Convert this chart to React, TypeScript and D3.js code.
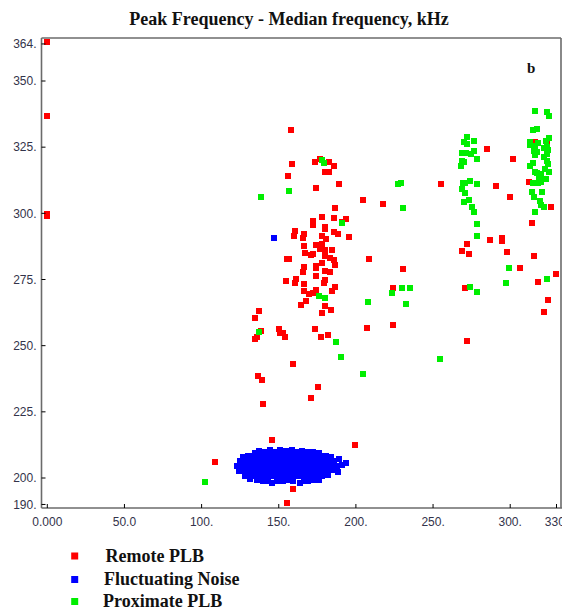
import { useEffect, useRef } from 'react'
import * as d3 from 'd3'

type Pt = [number, number]

const Y_TICKS = [190, 200, 225, 250, 275, 300, 325, 350, 364]
const Y_LABELS = ['190.', '200.', '225.', '250.', '275.', '300.', '325.', '350.', '364.']
const X_TICKS = [0, 50, 100, 150, 200, 250, 300, 330]
const X_LABELS = ['0.000', '50.0', '100.', '150.', '200.', '250.', '300.', '330.']

const SERIES_NAMES = ['Remote PLB', 'Fluctuating Noise', 'Proximate PLB']
const SERIES_COLORS = ['#ff0000', '#0000ff', '#00ee00']

const remote: Pt[] = [
  [0, 364.6], [0, 336.6], [0, 299.8], [0, 299.1],
  [158.1, 331.5], [158.8, 318.5], [155.8, 314.1], [174.3, 309.6], [173.7, 319.5], [176.9, 320.5],
  [182.4, 319.5], [185.6, 317.7], [180, 315.6], [182.4, 315.6], [189.3, 311.2], [204.8, 305],
  [217.4, 303.6], [255.3, 311.2], [285.2, 324.3], [302, 320.6], [290.8, 310.5], [300.1, 306.1],
  [314.3, 296.3], [326.2, 302.5], [312.4, 312], [316, 327.1], [315, 325.9], [324, 326.8],
  [272.2, 288.6], [269, 285.7], [273.3, 284.7], [287.1, 290.1], [294.5, 290.6], [294.5, 289.7],
  [298.1, 285.3], [306.4, 279.5], [315.6, 283.9], [329.5, 277.1], [318.2, 274.1], [324.3, 267.2],
  [321.9, 262.9], [270.9, 271.6], [272.2, 251.9], [208.7, 282.8], [230.3, 279.1], [224.2, 271.6],
  [224.2, 257.7], [207.4, 256.6], [137.2, 263.2], [134.8, 260.4], [138.7, 255.6], [136.1, 253.2],
  [134.4, 252.4], [150.2, 256.4], [150.8, 254.9], [152.6, 254.9], [153.9, 253.4], [173.7, 256.3],
  [177.4, 253.4], [181.9, 254.1], [186.3, 302.1],
  [178.2, 298.8], [185.6, 298.2], [191.2, 296.9], [193.8, 297.8], [172, 297.2], [172, 295.7],
  [180, 295], [180, 294], [160.7, 293.3], [160.1, 291.5], [166.2, 292.2], [165.7, 290.7],
  [178.2, 291.5], [180.6, 290.2], [185.6, 292.8], [188.6, 292.2], [195.5, 291.2], [166.2, 287.6],
  [174.3, 288.1], [178, 288.6], [176.7, 286.5], [179.8, 286], [184.5, 286.1], [167, 284.9],
  [170.7, 284.3], [172.4, 284.7], [180.2, 283.7], [183.2, 283.3], [185.8, 282.4], [155.1, 282.9],
  [156.8, 282.7], [178.2, 281.4], [186.3, 280.6], [166.6, 279.9], [165.9, 277.9], [174.3, 280.2],
  [174.1, 279.3], [174.3, 276.4], [180.2, 278.1], [183.2, 277.8], [154.5, 274.5], [161.4, 275.3],
  [160.7, 273.7], [166.2, 273.3], [180, 274.9], [179.5, 273.6], [186.3, 272.3], [184.5, 270.8],
  [166.4, 270.6], [169.8, 269.6], [172.4, 269.8], [173.9, 271.2], [167.5, 266.8], [164.4, 265.4],
  [180, 265], [178, 262.5], [183.9, 263.3],
  [159.4, 243], [136.4, 238.4], [138.9, 237], [175.6, 234.5], [171.1, 230.1], [140, 228],
  [145.8, 214.3], [199.4, 212.4], [108.9, 206.2], [159.4, 195.7], [155.1, 190.7],
]

const noise: Pt[] = [
  [147, 290.5],
  // dense blob around 125-193 kHz / 198-211 kHz
  [134.5, 209.6], [137.4, 210.2], [141, 209.9], [144.6, 210.4], [148.2, 210.0], [150.8, 210.6],
  [154.4, 210.1], [158.4, 210.6], [161.5, 210.0], [165, 210.3], [168.6, 209.8], [172.3, 209.9],
  [176.2, 209.4],
  [126.8, 208.1], [130.2, 208.3], [133.8, 208.2], [137.3, 208.4], [140.9, 208.2], [144.5, 208.3],
  [148.1, 208.1], [151.7, 208.4], [155.3, 208.2], [158.9, 208.4], [162.5, 208.1], [166.1, 208.3],
  [169.7, 208.1], [173.3, 208.4], [176.9, 208.2], [180.5, 208.3], [183.8, 208.0],
  [124.6, 206.4], [128.2, 206.3], [131.8, 206.4], [135.4, 206.3], [139.0, 206.5], [142.6, 206.3],
  [146.2, 206.4], [149.8, 206.3], [153.4, 206.5], [157.0, 206.3], [160.6, 206.4], [164.2, 206.2],
  [167.8, 206.4], [171.4, 206.3], [175.0, 206.5], [178.6, 206.3], [182.2, 206.4], [185.6, 206.6],
  [189.0, 207.0],
  [123.1, 204.4], [126.6, 204.6], [130.2, 204.5], [133.8, 204.6], [137.4, 204.4], [141.0, 204.5],
  [144.6, 204.6], [148.2, 204.4], [151.8, 204.6], [155.4, 204.5], [159.0, 204.6], [162.6, 204.4],
  [166.2, 204.5], [169.8, 204.6], [173.4, 204.4], [177.0, 204.5], [180.6, 204.6], [184.2, 204.5],
  [187.8, 204.6], [191.0, 205.0], [193.4, 205.5],
  [124.3, 202.8], [127.9, 202.6], [131.5, 202.7], [135.1, 202.6], [138.7, 202.7], [142.3, 202.6],
  [145.9, 202.7], [149.5, 202.8], [153.1, 202.6], [156.7, 202.7], [160.3, 202.6], [163.9, 202.7],
  [167.5, 202.6], [171.1, 202.7], [174.7, 202.8], [178.3, 202.6], [181.9, 202.7], [185.4, 202.9],
  [188.6, 202.4],
  [128.1, 200.9], [131.4, 200.7], [135.0, 200.8], [138.6, 200.7], [142.2, 200.9], [145.8, 200.7],
  [149.4, 200.8], [153.0, 200.7], [156.6, 200.9], [160.2, 200.7], [163.8, 200.8], [167.4, 200.7],
  [171.0, 200.9], [174.6, 200.7], [178.2, 200.9], [181.8, 201.1],
  [131.2, 199.6], [135.7, 199.2], [139.5, 199.0], [143.0, 198.9], [145.8, 198.2], [149.0, 199.0],
  [152.5, 198.9], [156.0, 199.1], [159.5, 198.8], [163.8, 198.2], [166.5, 199.0], [169.2, 198.7],
  [172.8, 199.1], [176.3, 199.4],
]

const proximate: Pt[] = [
  [102.5, 198.6], [138.3, 306.1], [156.8, 308.4], [177.8, 320.2], [179.3, 319], [191.2, 296.3],
  [176.1, 268.7], [180, 267.9], [137.3, 255.2], [186.9, 251.3], [190.5, 245.8], [204.8, 239.3],
  [208, 266.5], [227.1, 311.2], [229.2, 311.5], [230.3, 302.1], [223.4, 269.8], [229.7, 271.6],
  [235.3, 271.9], [232.3, 265.8], [254.5, 244.9],
  [272.2, 328.9], [270.1, 326.8], [272.2, 326.2], [276.5, 327.5], [269, 322.9], [271.4, 322.9],
  [276.3, 323.4], [274.8, 322.4], [278.5, 320.6], [268.6, 319.8], [270.1, 319.4], [268.3, 317.7],
  [269.2, 311.5], [270.7, 311.5], [274, 312.3], [278.5, 311.2], [269, 309.3], [270.5, 307.6],
  [273.3, 305], [270.3, 304.2], [275.2, 302.5], [276.5, 300.6], [278.5, 295.9], [278.5, 291.5],
  [274, 272.3], [278.5, 270.2], [299, 279.5], [297.1, 273.7],
  [316.3, 338.8], [323.8, 338.4], [325.1, 336.6], [315, 331.5], [317.2, 331.8], [325.1, 328.5],
  [323.4, 327.5], [312.6, 326.8], [312.6, 326], [318.2, 326.5], [315.9, 325.3], [321.9, 324.6],
  [323.8, 325.1], [324.5, 323.9], [315.4, 323.6], [316.3, 322], [317.6, 323.3], [322.1, 321.4],
  [324, 322.4], [323.6, 319.7], [324.5, 318.6], [312.8, 317.8], [315, 319], [322.4, 316.8],
  [315.9, 315.8], [317.2, 315.2], [325.1, 315.6], [320.2, 314.7], [318.5, 313.7], [321.4, 312.9],
  [323.2, 313], [320.2, 312], [318, 311.5], [315, 311.6], [314.3, 307.9], [320.4, 308.2],
  [315.6, 306], [319.5, 304.7], [320, 303.2], [322.1, 302.3], [316.3, 300.6], [323.8, 275.2],
]

export default function App() {
  const ref = useRef<SVGSVGElement | null>(null)

  useEffect(() => {
    if (!ref.current) return
    const svg = d3.select(ref.current)
    svg.selectAll('*').remove()

    const frame = { left: 41.5, right: 561, top: 38, bottom: 508 }
    const x = d3.scaleLinear().domain([0, 330]).range([47.3, 556.5])
    const y = d3.scaleLinear().domain([200, 350]).range([478, 81])

    const tickFont = '"Liberation Sans", Arial, sans-serif'
    const serif = '"Liberation Serif", "Times New Roman", serif'

    svg
      .append('text')
      .attr('x', 289)
      .attr('y', 25)
      .attr('text-anchor', 'middle')
      .attr('font-family', serif)
      .attr('font-weight', 700)
      .attr('font-size', 18)
      .attr('fill', '#111')
      .text('Peak Frequency - Median frequency, kHz')

    // series: red, blue, then green on top
    const all: [Pt[], string][] = [
      [remote, SERIES_COLORS[0]],
      [noise, SERIES_COLORS[1]],
      [proximate, SERIES_COLORS[2]],
    ]
    all.forEach(([pts, color]) => {
      svg
        .append('g')
        .attr('shape-rendering', 'crispEdges')
        .selectAll('rect')
        .data(pts)
        .join('rect')
        .attr('x', (d) => x(d[0]) - 3)
        .attr('y', (d) => y(d[1]) - 3)
        .attr('width', 6)
        .attr('height', 6)
        .attr('fill', color)
    })

    // frame
    const line = (x1: number, y1: number, x2: number, y2: number) =>
      svg
        .append('line')
        .attr('x1', x1)
        .attr('y1', y1)
        .attr('x2', x2)
        .attr('y2', y2)
        .attr('stroke', '#6b6b6b')
        .attr('stroke-width', 1.6)
    line(frame.left, frame.top, frame.right, frame.top)
    line(frame.left, frame.top, frame.left, frame.bottom)
    line(frame.right, frame.top, frame.right, frame.bottom)
    line(frame.left, frame.bottom, frame.right + 1, frame.bottom)

    // y ticks
    Y_TICKS.forEach((t, i) => {
      svg
        .append('line')
        .attr('x1', frame.left)
        .attr('x2', frame.left + 4)
        .attr('y1', y(t))
        .attr('y2', y(t))
        .attr('stroke', '#000')
        .attr('stroke-width', 1)
      svg
        .append('text')
        .attr('x', 36.5)
        .attr('y', y(t))
        .attr('dy', '0.35em')
        .attr('text-anchor', 'end')
        .attr('font-family', tickFont)
        .attr('font-size', 12)
        .attr('fill', '#33334a')
        .text(Y_LABELS[i])
    })

    // x ticks
    X_TICKS.forEach((t, i) => {
      svg
        .append('line')
        .attr('x1', x(t))
        .attr('x2', x(t))
        .attr('y1', frame.bottom)
        .attr('y2', frame.bottom - 4)
        .attr('stroke', '#000')
        .attr('stroke-width', 1)
      svg
        .append('text')
        .attr('x', x(t))
        .attr('y', 526)
        .attr('text-anchor', 'middle')
        .attr('font-family', tickFont)
        .attr('font-size', 12)
        .attr('fill', '#33334a')
        .text(X_LABELS[i])
    })

    svg
      .append('text')
      .attr('x', 527)
      .attr('y', 72.5)
      .attr('font-family', serif)
      .attr('font-weight', 700)
      .attr('font-size', 15)
      .attr('fill', '#111')
      .text('b')

    // legend
    const legendY = [556, 579.5, 601.5]
    const legendX = [105.5, 104, 103]
    SERIES_NAMES.forEach((name, i) => {
      svg
        .append('rect')
        .attr('x', 71.2)
        .attr('y', legendY[i] - 3.5)
        .attr('width', 7)
        .attr('height', 7)
        .attr('fill', SERIES_COLORS[i])
      svg
        .append('text')
        .attr('x', legendX[i])
        .attr('y', legendY[i] + 5.8)
        .attr('font-family', serif)
        .attr('font-weight', 700)
        .attr('font-size', 18)
        .attr('fill', '#111')
        .text(name)
    })
  }, [])

  return (
    <svg
      ref={ref}
      width={562}
      height={613}
      style={{ position: 'absolute', left: 0, top: 0, background: '#fff' }}
    />
  )
}
